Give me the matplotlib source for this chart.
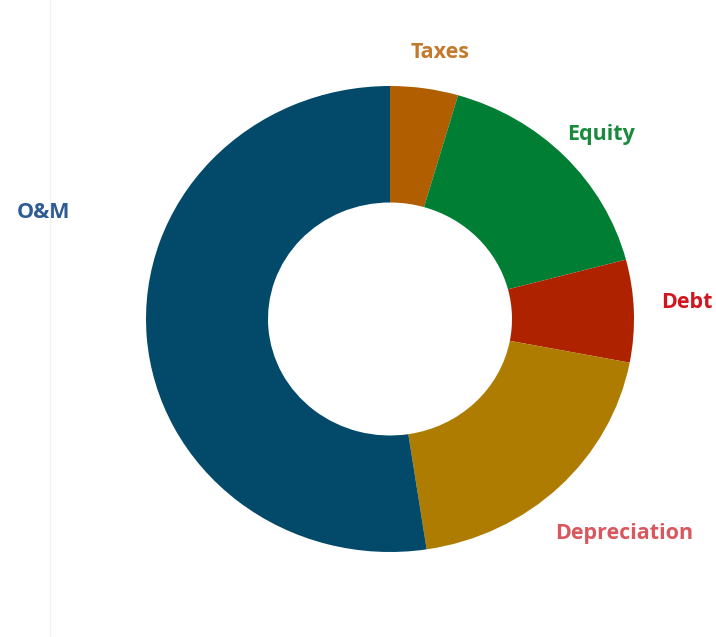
import matplotlib.pyplot as plt
from matplotlib.lines import Line2D

# cost breakdown, clockwise from 12 o'clock
categories = ['Taxes', 'Equity', 'Debt', 'Depreciation', 'O&M']
shares = [4.5, 16.4, 7.1, 19.6, 52.4]
wedge_colors = ['#B05E00', '#007E33', '#AE2200', '#AE7C00', '#034A6A']
label_colors = ['#C47A2C', '#1A8A3C', '#D0161E', '#D9585E', '#2E5B93']

# label anchor points in figure pixels (x, y from top)
label_pos = [(440, 53), (601, 134), (687, 303), (624, 533), (43, 212)]

W, H = 716, 637
fig = plt.figure(figsize=(W / 100, H / 100), dpi=100)
fig.patch.set_facecolor('white')

# faint rule near the left edge
fig.add_artist(Line2D([50 / W, 50 / W], [0, 1], color='#F0F0F0', lw=1))

ax = fig.add_axes([146 / W, (H - 552) / H, 488 / W, 466 / H])
ax.pie(shares, colors=wedge_colors, startangle=90, counterclock=False,
       radius=1, wedgeprops=dict(width=0.5, linewidth=0))
ax.set_aspect('auto')
ax.set_xlim(-1, 1)
ax.set_ylim(-1, 1)
ax.axis('off')

for name, col, (px, py) in zip(categories, label_colors, label_pos):
    fig.text(px / W, 1 - py / H, name, color=col, fontsize=15.5,
             fontweight='bold', family=['Open Sans', 'DejaVu Sans'],
             ha='center', va='center')

fig.savefig('out.png', dpi=100)
